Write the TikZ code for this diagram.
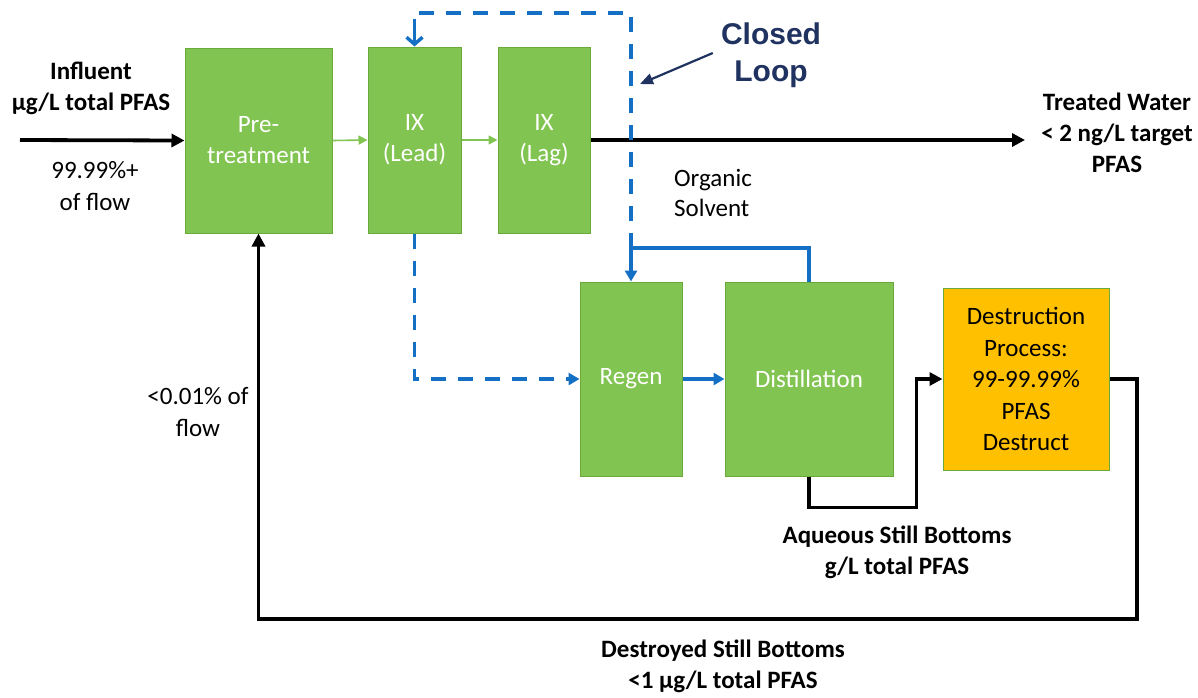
\documentclass[tikz,border=0pt]{standalone}
\usepackage{fontspec}
\setmainfont{Carlito}
\newfontfamily\arialfont{Liberation Sans}
\usetikzlibrary{arrows.meta}
\definecolor{boxgreen}{RGB}{129,196,81}
\definecolor{boxedge}{RGB}{106,170,60}
\definecolor{boxorange}{RGB}{255,192,0}
\definecolor{flowblue}{RGB}{20,112,196}
\definecolor{navy}{RGB}{31,50,96}
\tikzset{
  gbox/.style={draw=boxedge, line width=1pt, fill=boxgreen, text=white, align=center, font=\fontsize{25}{31}\selectfont, inner sep=0pt},
  obox/.style={draw=boxedge, line width=1pt, fill=boxorange, text=black, align=center, font=\fontsize{25}{31.5}\selectfont, inner sep=0pt},
  blk/.style={line width=3.8pt, black, -{Triangle[length=13pt,width=13pt]}},
  grn/.style={line width=1.6pt, boxgreen, -{Triangle[length=9pt,width=9pt]}},
  blu/.style={line width=3.4pt, flowblue, -{Triangle[length=11pt,width=12pt]}},
  blud/.style={line width=3.4pt, flowblue, dash pattern=on 15pt off 12pt},
  lbl/.style={align=center, font=\fontsize{25}{32}\selectfont, inner sep=0pt},
  blbl/.style={align=center, font=\bfseries\fontsize{25}{31}\selectfont, inner sep=0pt},
}
\begin{document}
\begin{tikzpicture}[x=1pt,y=-1pt]
\useasboundingbox (0,0) rectangle (1198,697);
% boxes
\node[gbox, minimum width=147pt, minimum height=185pt] (pre) at (258.5,140.5) {Pre-\\treatment};
\node[gbox, minimum width=93pt, minimum height=186pt] (lead) at (414.5,140) {IX\\(Lead)};
\node[gbox, minimum width=92pt, minimum height=186pt] (lag) at (544,140) {IX\\(Lag)};
\node[gbox, minimum width=102pt, minimum height=194pt] (regen) at (631,379) {Regen};
\node[gbox, minimum width=168pt, minimum height=194pt] (dist) at (809,379) {Distillation};
\node[obox, minimum width=166pt, minimum height=182pt] (dest) at (1026,379) {Destruction\\Process:\\99-99.99\%\\PFAS\\Destruct};
% coordinates
\coordinate (in) at (20,140);
\coordinate (tw) at (1025,140);
\coordinate (j) at (631,248);
\coordinate (top) at (631,13);
\coordinate (br) at (1137,619);
% main flow
\draw[blk] (in) -- (pre.west);
\draw[grn] (pre.east) -- (lead.west);
\draw[grn] (lead.east) -- (lag.west);
\draw[blk] (lag.east) -- (tw);
% dashed loops
\draw[blud, -{Triangle[length=11pt,width=12pt]}] (lead.south) |- (regen.west);
\draw[blud] (j) -- (top) -| ([yshift=26pt]lead.north);
\draw[line width=3.4pt, flowblue, -{Straight Barb[length=7pt,width=16pt]}] ([yshift=28pt]lead.north) -- (lead.north);
% solvent loop
\draw[blu] (dist.north) |- (j) -- (regen.north);
\draw[blu] (regen.east) -- (dist.west);
% still bottoms
\draw[blk] (dist.south) -- ++(0,31) -| ([xshift=-26pt]dest.west) -- (dest.west);
\draw[blk] (dest.east) -| (br) -| (pre.south);
% labels
\node[blbl] (tinf) at (91,88) {Influent\\µg/L total PFAS};
\node[lbl] (tflow) at (95,186) {99.99\%+\\of flow};
\node[blbl] (ttw) at (1117,133) {Treated Water\\< 2 ng/L target\\PFAS};
\node[lbl, align=left, font=\fontsize{25}{30}\selectfont] (tsolv) at (713,193) {Organic\\Solvent};
\node[lbl] (tsmall) at (198,412) {<0.01\% of\\flow};
\node[blbl] (taq) at (897,552) {Aqueous Still Bottoms\\g/L total PFAS};
\node[blbl] (tdes) at (723,666) {Destroyed Still Bottoms\\<1 µg/L total PFAS};
\node[align=center, text=navy, font=\arialfont\bfseries\fontsize{30}{37}\selectfont, inner sep=0pt] (cl) at (771,55) {Closed\\Loop};
\coordinate (clend) at (640,84);
\draw[navy, line width=2.2pt, -{Triangle[length=13pt,width=11pt]}] ([xshift=-8pt,yshift=2pt]cl.west) -- (clend);
\end{tikzpicture}
\end{document}
